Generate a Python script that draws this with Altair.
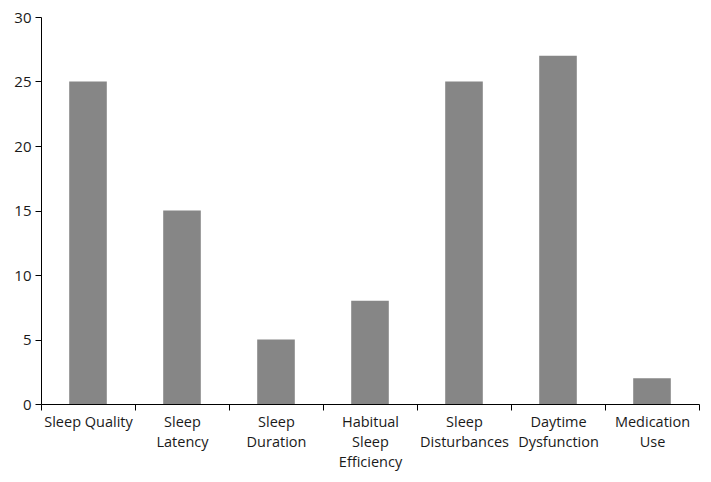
import altair as alt
import pandas as pd

categories = ["Sleep Quality", "Sleep\nLatency", "Sleep\nDuration",
              "Habitual\nSleep\nEfficiency", "Sleep\nDisturbances",
              "Daytime\nDysfunction", "Medication\nUse"]
values = [25, 15, 5, 8, 25, 27, 2]

df = pd.DataFrame({"cat": categories, "val": values})

chart = alt.Chart(df).mark_bar(color="#868686", width=alt.RelativeBandSize(0.4)).encode(
    x=alt.X("cat:N", sort=categories, title=None,
            scale=alt.Scale(paddingInner=0, paddingOuter=0),
            axis=alt.Axis(labelAngle=0, tickBand="extent", labelExpr="split(datum.label, '\\n')",
                          labelLineHeight=20, labelPadding=5, tickSize=6,
                          labelFont="Open Sans", labelFontSize=14.5, labelColor="#1a1a1a",
                          domainColor="#000", tickColor="#000", labelBaseline="top")),
    y=alt.Y("val:Q", title=None,
            scale=alt.Scale(domain=[0, 30]),
            axis=alt.Axis(values=[0, 5, 10, 15, 20, 25, 30], grid=False, tickSize=6,
                          labelFont="Open Sans", labelFontSize=15, labelColor="#1a1a1a",
                          domainColor="#000", tickColor="#000", labelPadding=4)),
).properties(
    width=658, height=387,
    autosize=alt.AutoSizeParams(type="none"),
    padding={"left": 33, "top": 9, "right": 4, "bottom": 70},
).configure_view(stroke=None)

chart.save("out.html", embed_options={"renderer": "svg", "actions": False})
